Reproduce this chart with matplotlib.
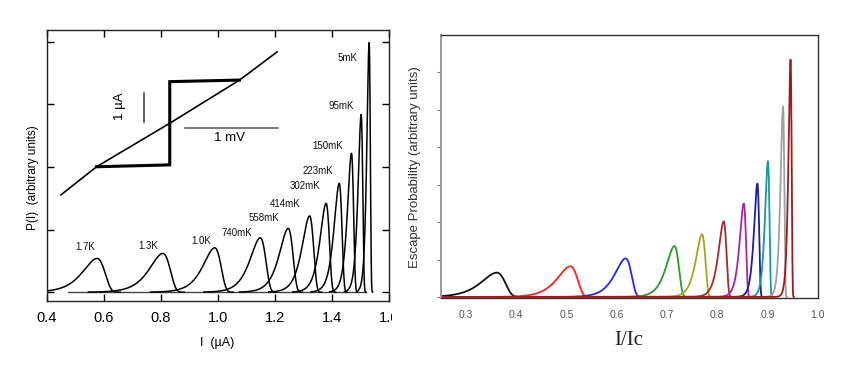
import numpy as np
import matplotlib
matplotlib.use("Agg")
import matplotlib.pyplot as plt
from matplotlib.transforms import Bbox, TransformedBbox

plt.rcParams['font.family'] = ['Liberation Sans', 'DejaVu Sans']

# ---------------- Left panel data (measured switching distributions) -------------
left_labels = ['1.7K', '1.3K', '1.0K', '740mK', '558mK', '414mK', '302mK',
               '223mK', '150mK', '95mK', '5mK']
left_centers = [0.577, 0.808, 0.990, 1.150, 1.248, 1.323, 1.381, 1.427, 1.470, 1.504, 1.532]
left_heights = [0.54, 0.62, 0.71, 0.87, 1.02, 1.22, 1.42, 1.74, 2.22, 2.84, 3.99]
left_widths = [0.031, 0.029, 0.025, 0.022, 0.019, 0.016, 0.013, 0.011, 0.0085, 0.0065, 0.0048]
left_label_x = [0.536, 0.758, 0.942, 1.067, 1.164, 1.236, 1.306, 1.353, 1.386, 1.435, 1.456]
left_label_y = [0.72, 0.74, 0.82, 0.95, 1.19, 1.41, 1.69, 1.94, 2.34, 2.97, 3.75]
left_xticks = [0.4, 0.6, 0.8, 1.0, 1.2, 1.4, 1.6]
left_xticklabels = ['0.4', '0.6', '0.8', '1.0', '1.2', '1.4', '1.6']

# inset I-V curve
iv_x = [0.45, 0.575, 0.832, 1.077, 1.209]
iv_y = [1.556, 2.005, 2.70, 3.39, 3.84]
loop_x = [0.575, 0.832, 0.832, 1.077]
loop_y = [2.005, 2.035, 3.365, 3.39]

# ---------------- Right panel data (simulated escape probabilities) --------------
right_centers = [0.3616, 0.508, 0.618, 0.715, 0.770, 0.813, 0.853, 0.880, 0.901, 0.931, 0.946]
right_heights = [0.65, 0.82, 1.03, 1.36, 1.67, 2.02, 2.50, 3.03, 3.63, 5.09, 6.34]
right_widths = [0.019, 0.016, 0.013, 0.010, 0.0075, 0.0063, 0.005, 0.004, 0.0035, 0.003, 0.0025]
right_colors = ['#111111', '#ff2020', '#2525ff', '#2a9a2a', '#a5a522', '#a52a2a',
                '#a626a6', '#1e1e9e', '#169c9c', '#a0a0a0', '#9b1c1c']
right_xticks = [0.3, 0.4, 0.5, 0.6, 0.7, 0.8, 0.9, 1.0]

LEFT_SKEW = 1.35  # left-side width relative to right-side width


def peak_shape(x, x0, h, b):
    z = (x - x0) / b
    z = np.where(z < 0, z / LEFT_SKEW, z)
    return h * np.exp(1.0 + z - np.exp(z))


W, H = 841, 378
fig = plt.figure(figsize=(W / 100, H / 100), dpi=100)

# ---------------- Left axes ----------------
axL = fig.add_axes([46.7 / W, (H - 301) / H, (388.5 - 46.7) / W, (301 - 30) / H])
axL.set_xlim(0.4, 1.6)
axL.set_ylim(-0.14, 4.19)

axL.plot([0.475, 1.52], [0, 0], color='#444444', lw=1.0)
for x0, h, b in zip(left_centers, left_heights, left_widths):
    lo = max(0.4, x0 - 9 * b)
    x = np.linspace(lo, x0 + 2.6 * b, 400)
    axL.plot(x, peak_shape(x, x0, h, b), color='black', lw=1.1)
for lbl, lx, ly in zip(left_labels, left_label_x, left_label_y):
    axL.text(lx, ly, lbl, fontsize=7, ha='center', va='center', color='#111111')

axL.plot(iv_x, iv_y, color='black', lw=1.2)
axL.plot(loop_x, loop_y, color='black', lw=2.2, solid_joinstyle='miter')
axL.plot([0.742, 0.742], [2.72, 3.18], color='#333333', lw=1.1)
axL.plot([0.884, 1.211], [2.62, 2.62], color='#555555', lw=1.1)
axL.text(0.659, 2.97, '1 \u00b5A', rotation=90, fontsize=9.5, ha='center', va='center')
axL.text(1.042, 2.46, '1 mV', fontsize=9.5, ha='center', va='center')

axL.set_xticks(left_xticks)
axL.set_xticklabels(left_xticklabels, fontsize=10.5)
axL.set_yticks([0, 1, 2, 3, 4])
axL.set_yticklabels([])
axL.tick_params(direction='in', top=True, right=True, length=5, width=1.0, pad=7)
for sp in axL.spines.values():
    sp.set_linewidth(1.0)
    sp.set_color('#222222')
clipbox = TransformedBbox(Bbox([[0, 0], [392 / W, 1]]), fig.transFigure)
for t in axL.xaxis.get_major_ticks():
    t.label1.set_clip_on(True)
    t.label1.set_clip_box(clipbox)

fig.text(33 / W, 1 - 178 / H, 'P(I)  (arbitrary units)', rotation=90, fontsize=8.5,
         ha='center', va='center')
fig.text(217 / W, 1 - 343 / H, 'I  (\u00b5A)', fontsize=9, ha='center', va='center')

# ---------------- Right axes ----------------
axR = fig.add_axes([440.7 / W, (H - 297.7) / H, (817.7 - 440.7) / W, (297.7 - 35) / H])
axR.set_xlim(0.25, 1.0)
axR.set_ylim(-0.02, 7.0)
for x0, h, b, c in zip(right_centers, right_heights, right_widths, right_colors):
    x = np.linspace(0.25, x0 + 2.6 * b, 1500)
    axR.plot(x, peak_shape(x, x0, h, b), color=c, lw=1.3)

axR.set_xticks(right_xticks)
axR.set_xticklabels(['%.1f' % v for v in right_xticks], fontsize=7.5, color='#555555')
axR.set_yticks([0, 1, 2, 3, 4, 5, 6])
axR.set_yticklabels([])
axR.tick_params(axis='x', length=0, pad=9)
axR.tick_params(axis='y', length=3, color='#777777', width=0.8)
for name, sp in axR.spines.items():
    sp.set_linewidth(1.0)
    sp.set_color('#333333')
axR.spines['left'].set_color('#999999')
axR.spines['left'].set_linewidth(1.4)

fig.text(415 / W, 1 - 166.7 / H, 'Escape Probability (arbitrary units)', rotation=90,
         fontsize=9.5, ha='center', va='center', color='#333333')
fig.text(629 / W, 1 - 340.7 / H, 'I/Ic', fontsize=15, ha='center', va='center',
         family='Liberation Serif', color='#222222')

fig.savefig('out.png', dpi=100)
